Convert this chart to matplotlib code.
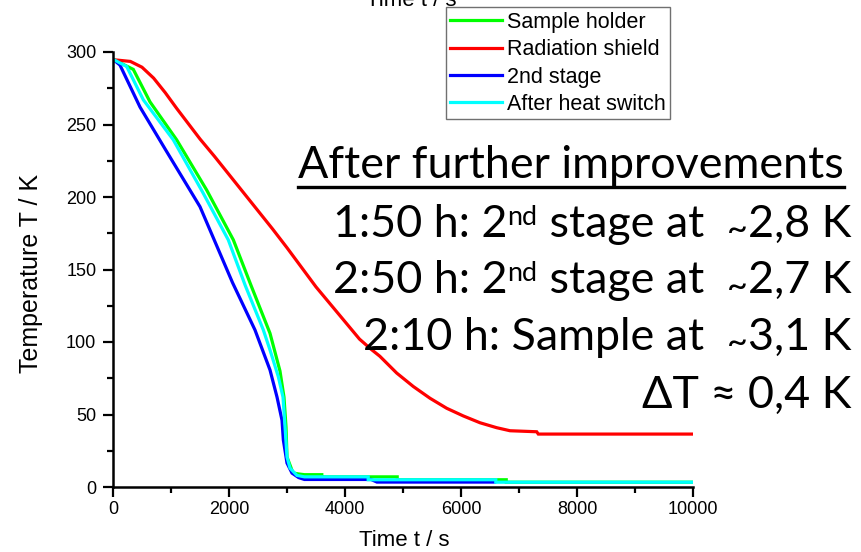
import matplotlib
matplotlib.use("Agg")
import matplotlib.pyplot as plt
from matplotlib.lines import Line2D
from matplotlib.ticker import MultipleLocator

plt.rcParams['font.family'] = ['Liberation Sans', 'DejaVu Sans']

# ---------------- data ----------------
t_sample = [0, 350, 638, 1098, 1615, 2075, 2380, 2707, 2879, 2948, 2983, 3000, 3103, 3200, 3300,
            3600, 3600, 4900, 4900, 6780, 6780, 10000]
T_sample = [295, 288, 265.6, 239.4, 204.8, 170.4, 139, 106, 80, 62, 41.4, 20.7, 9.7, 9, 8.5,
            8.5, 7.0, 7.0, 5.0, 5.0, 3.3, 3.3]

t_shield = [0, 300, 500, 700, 900, 1100, 1300, 1500, 1750, 2000, 2250, 2500, 2750, 3000, 3250,
            3500, 3750, 4000, 4250, 4450, 4600, 4891, 5178, 5466, 5753, 6040, 6328, 6615, 6845,
            7305, 7333, 10000]
T_shield = [294.7, 293.5, 289.5, 282, 272, 261, 250.5, 240, 228, 215.5, 203, 190.5, 178, 165, 151.5,
            138, 126, 114, 102, 95, 90.2, 78.6, 69.3, 61.2, 54.3, 49, 44.3, 40.9, 38.8,
            38.1, 36.5, 36.5]

t_stage2 = [0, 120, 466, 900, 1500, 2060, 2448, 2707, 2828, 2914, 2937, 3000, 3086, 3200, 3300,
            4450, 4550, 6580]
T_stage2 = [295, 291, 262, 233, 193.3, 141, 108.3, 80.7, 62, 46, 32.4, 16.5, 9.6, 6.5, 5.2,
            5.2, 3.4, 3.4]

t_switch = [0, 236, 523, 1040, 1557, 1988, 2280, 2592, 2707, 2850, 2931, 2966, 3000, 3052, 3172,
            3300, 4400, 4400, 6600, 6600, 10000]
T_switch = [295, 290, 267, 239.4, 202.5, 170.4, 139, 108.3, 94.5, 76.1, 62, 41.5, 20.7, 13, 8,
            7, 7, 5.0, 5.0, 3.3, 3.3]

labels = ["Sample holder", "Radiation shield", "2nd stage", "After heat switch"]
colors = ["#00ff00", "#ff0000", "#0000ff", "#00ffff"]

x_ticks = [0, 2000, 4000, 6000, 8000, 10000]
y_ticks = [0, 50, 100, 150, 200, 250, 300]

W, H = 861, 552
fig = plt.figure(figsize=(W / 100, H / 100), dpi=100)
ax = fig.add_axes([113 / W, 1 - 487 / H, 580 / W, 435 / H])

series = [(t_sample, T_sample), (t_shield, T_shield), (t_stage2, T_stage2), (t_switch, T_switch)]
handles = []
for (tx, ty), c, lab in zip(series, colors, labels):
    h, = ax.plot(tx, ty, color=c, lw=2.3, label=lab, solid_joinstyle='miter')
    handles.append(h)

ax.set_xlim(0, 10000)
ax.set_ylim(0, 300)
ax.set_xticks(x_ticks)
ax.set_yticks(y_ticks)
ax.xaxis.set_minor_locator(MultipleLocator(1000))
ax.yaxis.set_minor_locator(MultipleLocator(25))
for s in ['top', 'right']:
    ax.spines[s].set_visible(False)
for s in ['left', 'bottom']:
    ax.spines[s].set_linewidth(1.8)
ax.tick_params(which='major', direction='out', length=7, width=1.6, labelsize=13, pad=3)
ax.tick_params(axis='y', which='major', pad=5)
ax.tick_params(which='minor', direction='out', length=4, width=1.6)

ax.set_xlabel("Time t / s", fontsize=16)
ax.set_ylabel("Temperature T / K", fontsize=18)
ax.xaxis.set_label_coords(0.503, -0.1)
ax.yaxis.set_label_coords(-0.12, 0.49)

leg = ax.legend(handles, labels, loc='upper left', bbox_to_anchor=(446 / W, 1 - 7.3 / H),
                bbox_transform=fig.transFigure, fontsize=15.5, frameon=True, fancybox=False,
                edgecolor='#707070', framealpha=1, borderpad=0.2, labelspacing=0.3,
                handlelength=2.4, handletextpad=0.25, borderaxespad=0)
leg.get_frame().set_linewidth(1.0)
for ln in leg.get_lines():
    ln.set_linewidth(2.3)

# stray clipped label at top
fig.text(411 / W, 1 - 6 / H, "Time t / s", ha='center', va='baseline', fontsize=16)

# ---------------- annotation text ----------------
ANN = ['Lato', 'DejaVu Sans']
r = fig.canvas.get_renderer()

def width_of(s, fs):
    t = fig.text(0, 0, s, fontsize=fs, family=ANN)
    w = t.get_window_extent(r).width
    t.remove()
    return w

def adv(s, fs):
    return width_of('X' + s + 'X', fs) - width_of('XX', fs)

title = "After further improvements"
size = 30 * 546 / width_of(title, 30)
tt = fig.text(298 / W, 1 - 178.3 / H, title, fontsize=size, family=ANN, ha='left', va='baseline')
bb = tt.get_window_extent(r)
fig.add_artist(Line2D([bb.x0 / W, bb.x1 / W], [1 - 187.3 / H] * 2, lw=2.4, color='k'))

def rich_line(pieces, right_px, base_px):
    ws = [adv(s, size * f) for s, f, dy in pieces]
    x = right_px - sum(ws)
    for (s, f, dy), w in zip(pieces, ws):
        fig.text(x / W, 1 - (base_px - dy * size * 100 / 72) / H, s, fontsize=size * f,
                 family=ANN, ha='left', va='baseline')
        x += w

TIL = ("~", 0.8, -0.1)
rich_line([("1:50 h: 2", 1, 0), ("nd", 0.6, 0.27), (" stage at  ", 1, 0), TIL,
           ("2,8 K", 1, 0)], 851, 236.7)
rich_line([("2:50 h: 2", 1, 0), ("nd", 0.6, 0.27), (" stage at  ", 1, 0), TIL,
           ("2,7 K", 1, 0)], 851, 293.3)
rich_line([("2:10 h: Sample at  ", 1, 0), TIL, ("3,1 K", 1, 0)], 851, 350)
rich_line([("\u0394T \u2248 0,4 K", 1, 0)], 851, 408.3)

fig.savefig("out.png", dpi=100)
